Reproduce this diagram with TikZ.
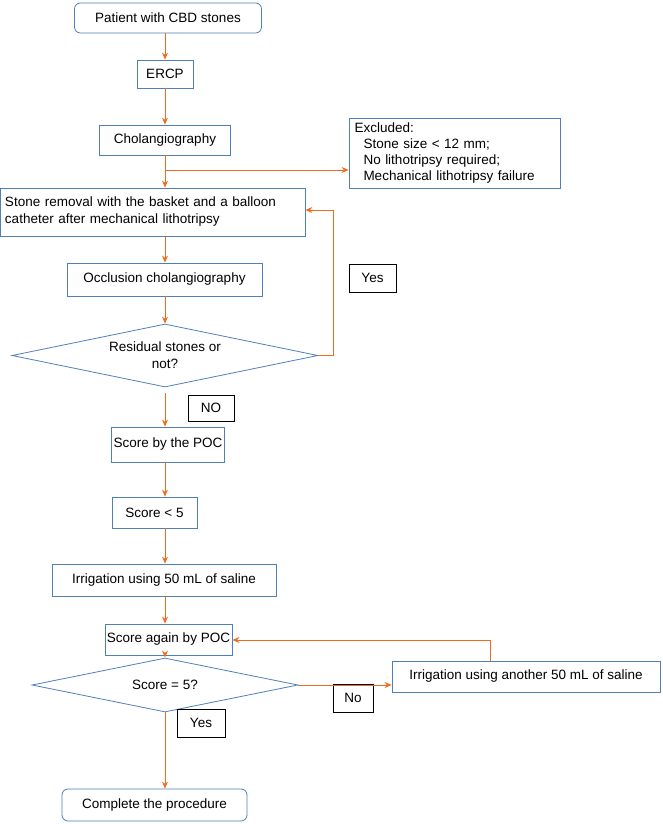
\documentclass[tikz,border=0pt]{standalone}
\usepackage{fontspec}
\setmainfont{Liberation Sans}
\usetikzlibrary{shapes.geometric,arrows.meta}
\definecolor{bl}{HTML}{4F7FB8}
\definecolor{og}{HTML}{F26B1D}
\begin{document}
\begin{tikzpicture}[x=1pt,y=-1pt,font=\fontsize{13.5}{17}\selectfont,
 box/.style={draw=bl,line width=0.8pt,inner sep=2pt,align=center},
 rbox/.style={box,rounded corners=6pt},
 lbl/.style={draw=black,line width=0.6pt,inner sep=0pt},
 dia/.style={draw=bl,line width=0.8pt,diamond,aspect=4.8,inner sep=0pt},
 arr/.style={draw=og,line width=0.9pt,-{Stealth[length=7pt,width=6pt]}},
 ln/.style={draw=og,line width=0.9pt}]
\useasboundingbox (0,0) rectangle (662,824);
\node[rbox,minimum width=187pt,minimum height=30pt] (p) at (168,18) {Patient with CBD stones};
\node[box,minimum width=56pt,minimum height=28pt] (e) at (165,74) {ERCP};
\node[box,minimum width=131pt,minimum height=30pt] (c) at (165,140) {Cholangiography};
\node[box,minimum width=211pt,minimum height=61pt,align=left,text width=200pt,inner sep=5pt,font=\fontsize{13.5}{16}\selectfont] (x) at (454.5,153.5) {Excluded:\\\ \ Stone size < 12 mm;\\\ \ No lithotripsy required;\\\ \ Mechanical lithotripsy failure};
\node[box,minimum width=305pt,minimum height=48pt,align=left,text width=295pt,inner sep=5pt] (s) at (152.5,212) {Stone removal with the basket and a balloon\\catheter after mechanical lithotripsy};
\node[box,minimum width=195pt,minimum height=33pt] (o) at (164.5,279.5) {Occlusion cholangiography};
\node[dia,minimum width=306pt,minimum height=63pt,align=center] (d1) at (165,355.5) {Residual stones or\\not?};
\node[lbl,minimum width=47pt,minimum height=28pt] (y1) at (372.5,278) {Yes};
\node[lbl,minimum width=46pt,minimum height=26pt] (n1) at (211,408) {NO};
\node[box,minimum width=112pt,minimum height=35pt] (sp) at (168,444.5) {Score by the POC};
\node[box,minimum width=85pt,minimum height=31pt] (s5) at (154.5,512.5) {Score < 5};
\node[box,minimum width=224pt,minimum height=32pt] (i1) at (164,580) {Irrigation using 50 mL of saline};
\node[box,minimum width=125pt,minimum height=31pt] (sa) at (168.5,639.5) {Score again by POC};
\node[dia,minimum width=266pt,minimum height=54pt] (d2) at (165,685) {Score = 5?};
\node[box,minimum width=268pt,minimum height=31pt] (i2) at (526,676.5) {Irrigation using another 50 mL of saline};
\node[lbl,minimum width=40pt,minimum height=28pt] (n2) at (353,698) {No};
\node[lbl,minimum width=48pt,minimum height=28pt] (y2) at (201,723) {Yes};
\node[rbox,minimum width=185pt,minimum height=32pt] (f) at (154.5,805) {Complete the procedure};
\coordinate (vx) at (165,0);
\path[arr] (vx|-p.south) -- (vx|-e.north);
\path[arr] (vx|-e.south) -- (vx|-c.north);
\path[arr] (vx|-c.south) -- (vx|-s.north);
\coordinate (br) at (165,170);
\path[arr] (br) -- (x.west|-br);
\path[arr] (vx|-s.south) -- (vx|-o.north);
\path[arr] (vx|-o.south) -- (d1.north);
\coordinate (l1) at (333,355.5);
\coordinate (l2) at (333,210);
\path[ln] (d1.east) -- (l1) -- (l2);
\path[arr] (l2) -- (s.east|-l2);
\path[arr] (165,393) -- (vx|-sp.north);
\path[arr] (vx|-sp.south) -- (vx|-s5.north);
\path[arr] (vx|-s5.south) -- (vx|-i1.north);
\path[arr] (vx|-i1.south) -- (vx|-sa.north);
\path[arr] (vx|-sa.south) -- (d2.north);
\path[arr] (d2.east) -- (i2.west|-d2.east);
\coordinate (t1) at (490,640);
\path[ln] (t1|-i2.north) -- (t1);
\path[arr] (t1) -- (sa.east|-t1);
\path[arr] (d2.south) -- (vx|-f.north);
\end{tikzpicture}
\end{document}
